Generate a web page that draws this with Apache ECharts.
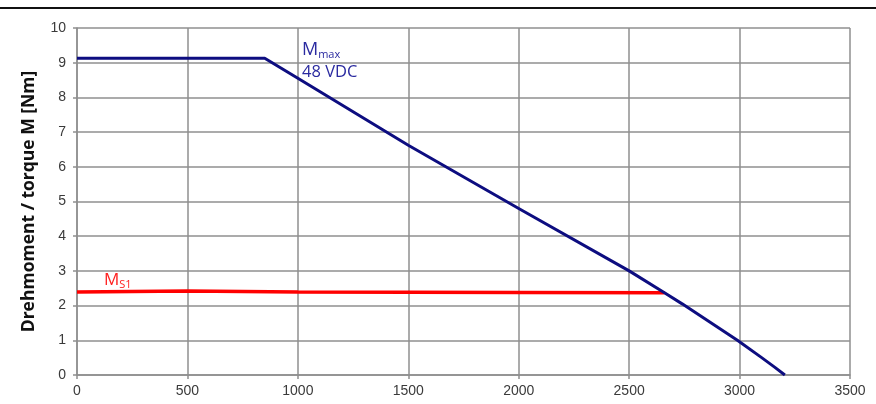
<!DOCTYPE html>
<html>
<head>
<meta charset="utf-8">
<script src="https://cdn.jsdelivr.net/npm/echarts@6/dist/echarts.min.js"></script>
<style>
  html, body { margin: 0; padding: 0; background: #fff; }
  #chart { width: 876px; height: 404px; }
</style>
</head>
<body>
<div id="chart"></div>
<script>
  // Drehzahl-Achse
  var xTicks = [0, 500, 1000, 1500, 2000, 2500, 3000, 3500];
  var yTicks = [0, 1, 2, 3, 4, 5, 6, 7, 8, 9, 10];

  // Mmax bei 48 VDC: [Drehzahl, Moment]
  var mmaxSpeed  = [0, 850, 1000, 1500, 2000, 2500, 2660, 2740, 2990, 3100, 3160, 3205];
  var mmaxTorque = [9.13, 9.13, 8.55, 6.62, 4.8, 3.0, 2.37, 2.05, 1.0, 0.5, 0.22, 0];

  // MS1 Dauermoment
  var ms1Speed  = [0, 500, 1000, 2000, 2660];
  var ms1Torque = [2.39, 2.42, 2.39, 2.38, 2.37];

  function pairs(xs, ys) {
    var out = [];
    for (var i = 0; i < xs.length; i++) out.push([xs[i], ys[i]]);
    return out;
  }

  var chart = echarts.init(document.getElementById('chart'));
  var gridColor = '#8f8f8f';

  var option = {
    animation: false,
    backgroundColor: '#fff',
    grid: { left: 77, right: 26, top: 28, bottom: 29 },
    xAxis: {
      type: 'value',
      min: xTicks[0],
      max: xTicks[xTicks.length - 1],
      interval: 500,
      axisLine: { lineStyle: { color: gridColor, width: 1.5 } },
      axisTick: { show: true, length: 4, lineStyle: { color: gridColor, width: 1.5 } },
      splitLine: { show: true, lineStyle: { color: gridColor, width: 1.5 } },
      axisLabel: {
        color: '#3a3a3a', fontFamily: 'Liberation Sans', fontSize: 14, margin: 9,
        formatter: function (v) { return String(v); }
      }
    },
    yAxis: {
      type: 'value',
      min: yTicks[0],
      max: yTicks[yTicks.length - 1],
      interval: 1,
      name: 'Drehmoment / torque M [Nm]',
      nameLocation: 'middle',
      nameGap: 39,
      nameTextStyle: { color: '#111', fontFamily: 'Open Sans', fontWeight: 'bold', fontSize: 17.5 },
      axisLine: { show: true, lineStyle: { color: gridColor, width: 1.5 } },
      axisTick: { show: true, length: 4, lineStyle: { color: gridColor, width: 1.5 } },
      splitLine: { show: true, lineStyle: { color: gridColor, width: 1.5 } },
      axisLabel: { color: '#3a3a3a', fontFamily: 'Liberation Sans', fontSize: 14, margin: 11 }
    },
    series: [
      {
        name: 'Mmax',
        type: 'line',
        data: pairs(mmaxSpeed, mmaxTorque),
        symbol: 'none',
        lineStyle: { color: '#0d0d80', width: 3, join: 'round' },
        z: 3
      },
      {
        name: 'MS1',
        type: 'line',
        data: pairs(ms1Speed, ms1Torque),
        symbol: 'none',
        lineStyle: { color: '#ff0000', width: 3.5 },
        z: 2
      }
    ],
    graphic: [
      // obere schwarze Trennlinie
      { type: 'rect', left: 0, top: 7, shape: { width: 876, height: 2 }, style: { fill: '#111' } },
      {
        type: 'text', left: 302, top: 41,
        style: {
          text: '{m|M}{s|max}\n{v|48 VDC}',
          rich: {
            m: { fontFamily: 'Open Sans', fontSize: 18, fill: '#2a2aa0', lineHeight: 24 },
            s: { fontFamily: 'Open Sans', fontSize: 11, fill: '#2a2aa0', padding: [10, 0, 0, 0] },
            v: { fontFamily: 'Open Sans', fontSize: 16.5, fill: '#2a2aa0', lineHeight: 21 }
          }
        }
      },
      {
        type: 'text', left: 104, top: 272,
        style: {
          text: '{m|M}{s|S1}',
          rich: {
            m: { fontFamily: 'Open Sans', fontSize: 17, fill: '#ff2020' },
            s: { fontFamily: 'Open Sans', fontSize: 11, fill: '#ff2020', padding: [9, 0, 0, 0] }
          }
        }
      }
    ]
  };

  chart.setOption(option);
</script>
</body>
</html>
